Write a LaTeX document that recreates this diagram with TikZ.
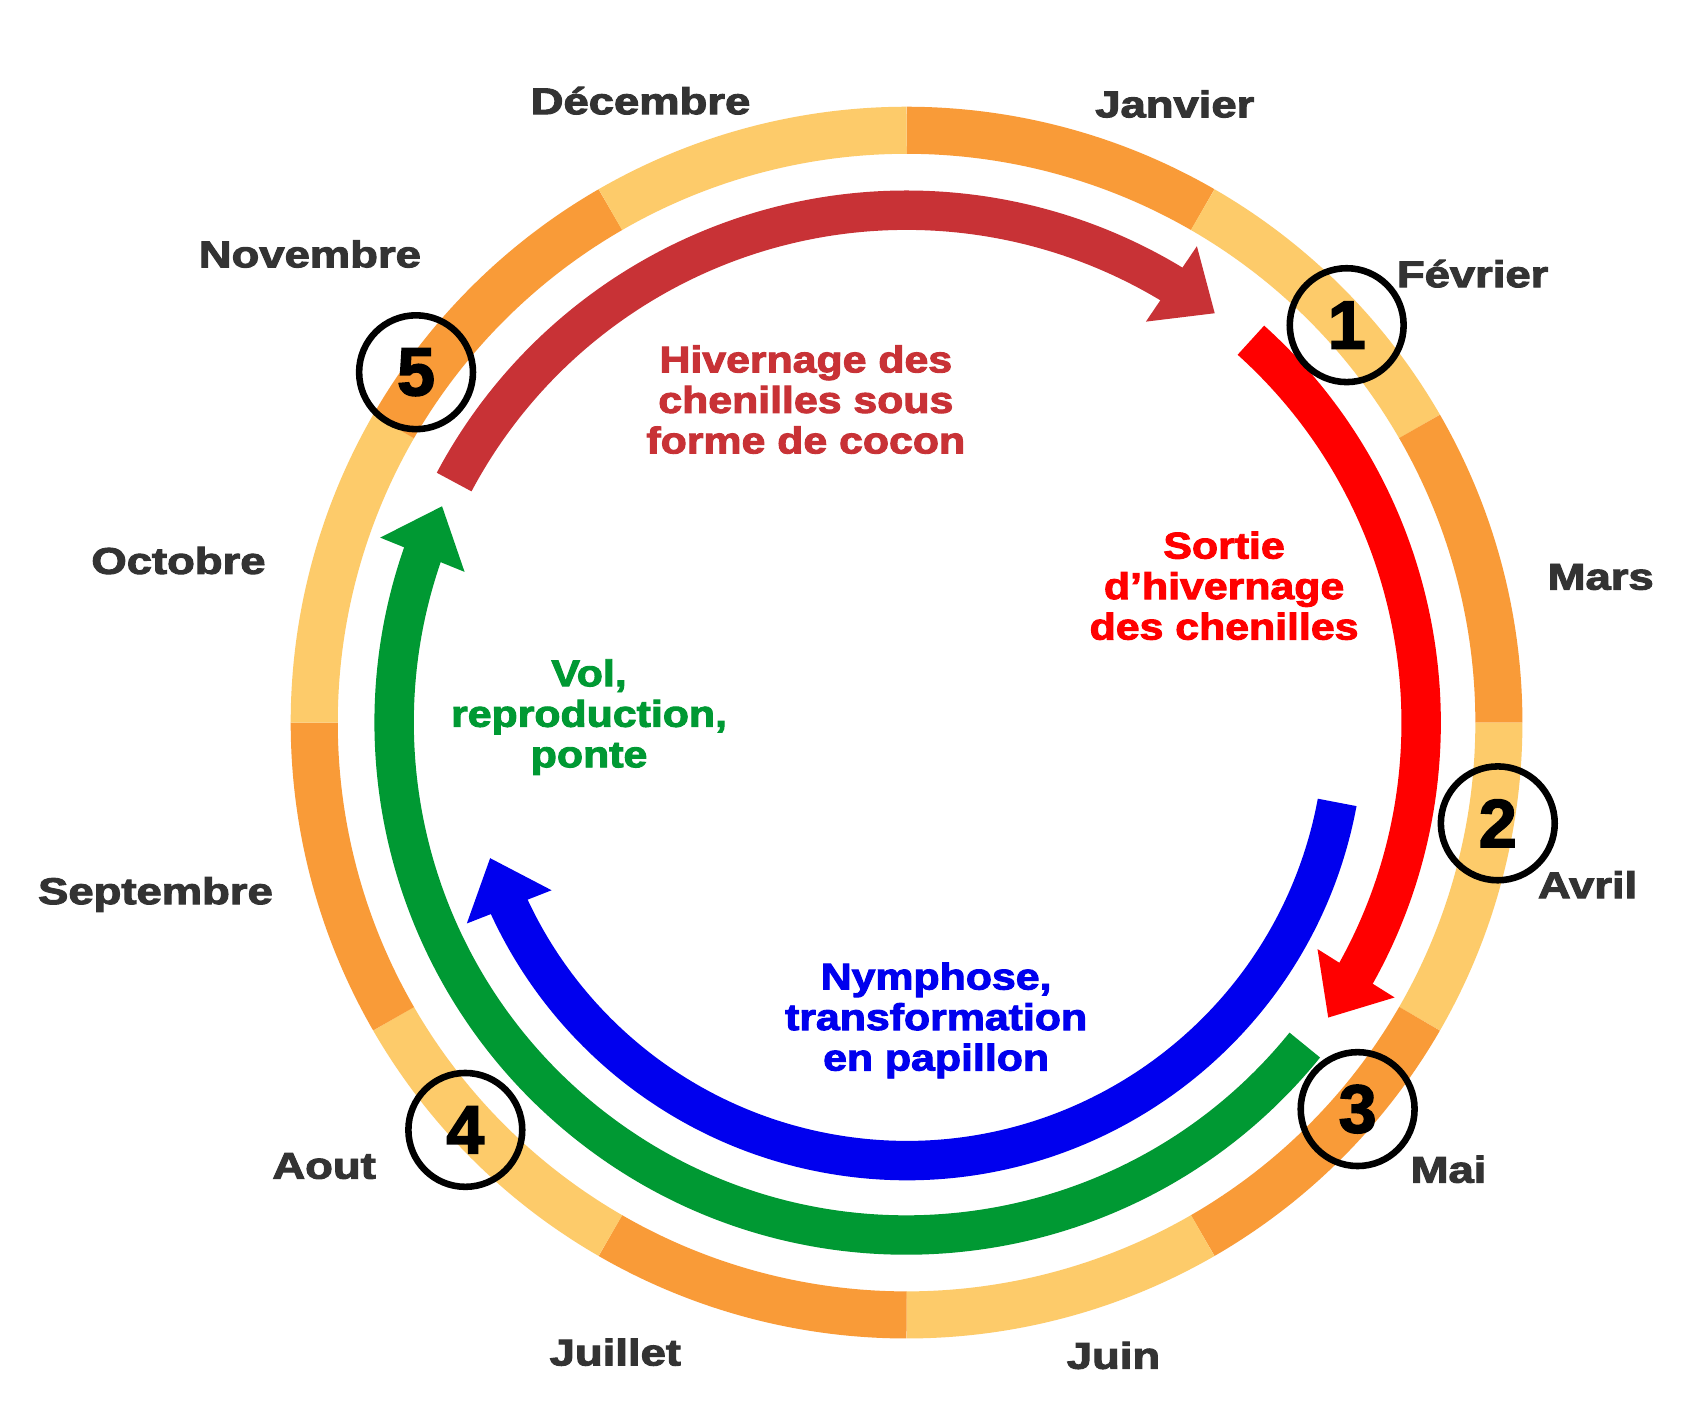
\documentclass[tikz,border=0pt]{standalone}
\usepackage{fontspec}
\setmainfont[BoldFeatures={FakeBold=2.5}]{Liberation Sans}
\usetikzlibrary{arrows.meta,bending}
\definecolor{orng}{HTML}{F99B38}
\definecolor{lite}{HTML}{FDCB6A}
\definecolor{dred}{HTML}{C83236}
\definecolor{bred}{HTML}{FF0000}
\definecolor{blu}{HTML}{0000EE}
\definecolor{grn}{HTML}{009933}
\definecolor{mon}{HTML}{333333}
\begin{document}
\begin{tikzpicture}[x=1pt,y=1pt,
  month/.style={font=\fontsize{34}{36}\selectfont\bfseries,text=mon,xscale=1.22},
  lab/.style={font=\fontsize{34}{37}\selectfont\bfseries,align=center,xscale=1.15},
  num/.style={circle,draw=black,line width=6pt,minimum size=104pt,inner sep=0pt,font=\fontsize{62}{62}\selectfont\bfseries},
  arr/.style={line width=36pt,-{Triangle[length=48pt,width=80pt,flex]}}]
\useasboundingbox (0,0) rectangle (1560,1300);
\fill[white] (0,0) rectangle (1560,1300);
\coordinate (C) at (828,640);
\begin{scope}[shift={(C)},line width=43pt]
\foreach \a/\c in {60/orng,30/lite,0/orng,-30/lite,-60/orng,-90/lite,-120/orng,-150/lite,-180/orng,150/lite,120/orng,90/lite}
  \draw[\c] (\a:541) arc[start angle=\a,end angle=\a+30,radius=541];
\draw[dred,arr] (152:468) arc[start angle=152,end angle=53,radius=468];
\draw[bred,arr] (48:470) arc[start angle=48,end angle=-35,radius=470];
\draw[blu,arr] (-10.5:400) arc[start angle=-10.5,end angle=-162,radius=400];
\draw[grn,arr] (-39:468) arc[start angle=-39,end angle=-205,radius=468];
\end{scope}
\node[num] (n1) at (1230,1003) {1};
\node[num] (n2) at (1368,548) {2};
\node[num] (n3) at (1240,287) {3};
\node[num] (n4) at (425,268) {4};
\node[num] (n5) at (380,960) {5};
\node[month] (m12) at (585,1208) {Décembre};
\node[month] (m1) at (1073,1205) {Janvier};
\node[month] (m2) at (1345,1050) {Février};
\node[month] (m3) at (1462,773) {Mars};
\node[month] (m4) at (1450,492) {Avril};
\node[month] (m5) at (1323,232) {Mai};
\node[month] (m6) at (1017,62) {Juin};
\node[month] (m7) at (562,65) {Juillet};
\node[month] (m8) at (296,235) {Aout};
\node[month] (m9) at (142,483) {Septembre};
\node[month] (m10) at (163,788) {Octobre};
\node[month] (m11) at (283,1068) {Novembre};
\node[lab,text=dred] (t1) at (736,935) {Hivernage des\\chenilles sous\\forme de cocon};
\node[lab,text=bred] (t2) at (1118,765) {Sortie\\d’hivernage\\des chenilles};
\node[lab,text=grn] (t3) at (538,645) {Vol,\\reproduction,\\ponte};
\node[lab,text=blu] (t4) at (855,368) {Nymphose,\\transformation\\en papillon};
\end{tikzpicture}
\end{document}
